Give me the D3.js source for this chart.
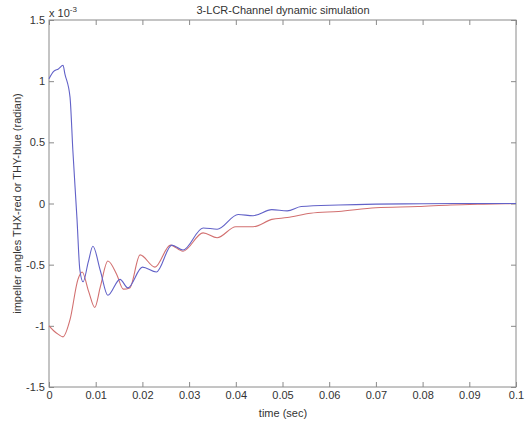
<!DOCTYPE html>
<html><head><meta charset="utf-8">
<script src="https://cdn.jsdelivr.net/npm/d3@7"></script>
<style>body{margin:0;background:#fff}svg{display:block}text{font-family:"Liberation Sans",Arial,sans-serif;fill:#333}</style>
</head><body>
<svg id="c" width="529" height="421"></svg>
<script>
const titleText = "3-LCR-Channel dynamic simulation";
const xLabel = "time (sec)";
const yLabel = "impeller angles THX-red or THY-blue (radian)";
const xTicks = [0,0.01,0.02,0.03,0.04,0.05,0.06,0.07,0.08,0.09,0.1];
const xTickLabels = ["0","0.01","0.02","0.03","0.04","0.05","0.06","0.07","0.08","0.09","0.1"];
const yTicks = [-1.5,-1,-0.5,0,0.5,1,1.5];
const yTickLabels = ["-1.5","-1","-0.5","0","0.5","1","1.5"];
// values in units of 1e-3 rad
const blueTime = [0,0.001,0.002,0.003,0.0034,0.0045,0.0051,0.006,0.0066,0.0073,0.0084,0.0094,0.011,0.0126,0.0152,0.0169,0.02,0.023,0.0263,0.0287,0.033,0.036,0.0405,0.0437,0.0477,0.051,0.054,0.062,0.07,0.08,0.09,0.1];
const blueValues = [1.02,1.08,1.1,1.13,1.06,0.87,0.44,-0.13,-0.54,-0.64,-0.48,-0.35,-0.55,-0.75,-0.62,-0.69,-0.52,-0.56,-0.34,-0.38,-0.20,-0.21,-0.09,-0.10,-0.05,-0.06,-0.025,-0.012,-0.005,-0.002,0,0];
const redTime = [0,0.001,0.002,0.003,0.0045,0.0062,0.0071,0.0085,0.0098,0.011,0.0126,0.0145,0.0159,0.0173,0.0195,0.0227,0.026,0.0287,0.033,0.036,0.040,0.0437,0.0477,0.051,0.056,0.062,0.07,0.079,0.086,0.093,0.1];
const redValues = [-1.0,-1.04,-1.07,-1.09,-0.95,-0.62,-0.56,-0.72,-0.85,-0.68,-0.47,-0.58,-0.70,-0.69,-0.42,-0.52,-0.34,-0.39,-0.24,-0.28,-0.19,-0.19,-0.13,-0.115,-0.08,-0.065,-0.035,-0.025,-0.012,-0.005,0];

const svg = d3.select("#c");
const L=49, T=20, R=516, B=387;
const x = d3.scaleLinear().domain([0,0.1]).range([L,R]);
const y = d3.scaleLinear().domain([-1.5,1.5]).range([B,T]);
const axisColor = "#8a8a8a";

svg.append("rect").attr("x",L).attr("y",T).attr("width",R-L).attr("height",B-T)
  .attr("fill","none").attr("stroke",axisColor).attr("stroke-width",1);

function styleAxis(g){
  g.select(".domain").remove();
  g.selectAll(".tick line").attr("stroke",axisColor);
  g.selectAll(".tick text").style("font-size","11px").attr("fill","#333");
}
const xb = svg.append("g").attr("transform",`translate(0,${B})`)
  .call(d3.axisBottom(x).tickValues(xTicks).tickSizeInner(-5).tickSizeOuter(0).tickPadding(4)
  .tickFormat((d,i)=>xTickLabels[i]));
styleAxis(xb);
const xt = svg.append("g").attr("transform",`translate(0,${T})`)
  .call(d3.axisTop(x).tickValues(xTicks).tickSizeInner(-5).tickSizeOuter(0).tickFormat(""));
styleAxis(xt);
const yl = svg.append("g").attr("transform",`translate(${L},0)`)
  .call(d3.axisLeft(y).tickValues(yTicks).tickSizeInner(-5).tickSizeOuter(0).tickPadding(4)
  .tickFormat((d,i)=>yTickLabels[i]));
styleAxis(yl);
const yr = svg.append("g").attr("transform",`translate(${R},0)`)
  .call(d3.axisRight(y).tickValues(yTicks).tickSizeInner(-5).tickSizeOuter(0).tickFormat(""));
styleAxis(yr);

const line = d3.line().x(d=>x(d[0])).y(d=>y(d[1])).curve(d3.curveMonotoneX);
svg.append("path").datum(redTime.map((t,i)=>[t,redValues[i]]))
  .attr("d",line).attr("fill","none").attr("stroke","#d27070").attr("stroke-width",1.1);
svg.append("path").datum(blueTime.map((t,i)=>[t,blueValues[i]]))
  .attr("d",line).attr("fill","none").attr("stroke","#6262c8").attr("stroke-width",1.1);

svg.append("text").attr("x",283).attr("y",14).attr("text-anchor","middle").style("font-size","11px").text(titleText);
svg.append("text").attr("x",283).attr("y",417).attr("text-anchor","middle").style("font-size","11px").text(xLabel);
svg.append("text").attr("transform",`translate(21,${(T+B)/2}) rotate(-90)`).attr("text-anchor","middle").style("font-size","11px").text(yLabel);
const mul = svg.append("text").attr("x",49).attr("y",17).style("font-size","11px");
mul.append("tspan").text("x 10");
mul.append("tspan").attr("dy",-5).style("font-size","8px").text("-3");
</script>
</body></html>
